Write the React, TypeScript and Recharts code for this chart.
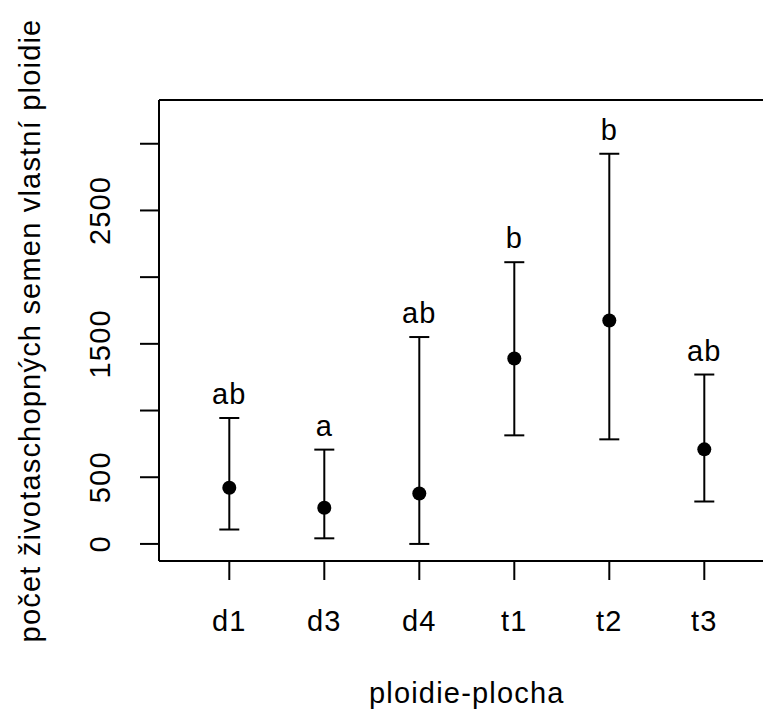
import React from "react"
import {
  ComposedChart,
  Scatter,
  ErrorBar,
  XAxis,
  YAxis,
  ReferenceLine,
} from "recharts"

// skupiny (ploidie-plocha)
const categories = ["d1", "d3", "d4", "t1", "t2", "t3"]
// prumer a interval
const means = [421, 271, 378, 1390, 1675, 709]
const lowers = [108, 42, 0, 814, 784, 318]
const uppers = [944, 707, 1551, 2112, 2925, 1270]
// pismena z post-hoc testu
const letters = ["ab", "a", "ab", "b", "b", "ab"]
const yTicks = [0, 500, 1000, 1500, 2000, 2500, 3000]
// R vynecha popisky, ktere by se prekryvaly
const yTickLabels = [0, 500, 1500, 2500]

const FONT = "'Liberation Sans', Arial, sans-serif"
const FS = 29
const LS = 1.2

const data = categories.map((c, i) => ({
  x: i + 1,
  name: c,
  mean: means[i],
  upper: uppers[i],
  err: [means[i] - lowers[i], uppers[i] - means[i]],
  letter: letters[i],
}))

const txt = { fontSize: FS, fontFamily: FONT, fill: "#000", letterSpacing: LS }

const YTick = (props: any) => {
  const { x, y, payload } = props
  if (!yTickLabels.includes(payload.value)) return null
  const tx = x - 30
  return (
    <text x={tx} y={y} transform={`rotate(-90 ${tx} ${y})`} textAnchor="middle" {...txt}>
      {payload.value}
    </text>
  )
}

const XTick = (props: any) => {
  const { x, y, payload } = props
  return (
    <text x={x} y={y + 51} textAnchor="middle" {...txt}>
      {categories[payload.value - 1]}
    </text>
  )
}

const Dot = (props: any) => <circle cx={props.cx} cy={props.cy} r={7} fill="#000" />

const Letter = (props: any) => (
  <text x={props.cx} y={props.cy - 14} textAnchor="middle" {...txt}>
    {props.payload.letter}
  </text>
)

export default function App() {
  return (
    <div
      style={{
        position: "absolute",
        left: 0,
        top: 0,
        width: 763,
        height: 713,
        overflow: "hidden",
        background: "#fff",
      }}
    >
      <ComposedChart
        width={800}
        height={713}
        data={data}
        margin={{ top: 100, right: 25.4, bottom: 0, left: 0 }}
      >
        <XAxis
          dataKey="x"
          type="number"
          domain={[0.26, 6.74]}
          ticks={categories.map((_, i) => i + 1)}
          allowDataOverflow
          height={152}
          axisLine={{ stroke: "#000", strokeWidth: 2 }}
          tickLine={{ stroke: "#000", strokeWidth: 2 }}
          tickSize={19}
          tickMargin={0}
          tick={<XTick />}
          label={{
            content: (p: any) => {
              const vb = p.viewBox
              return (
                <text x={vb.x + vb.width / 2} y={vb.y + 142} textAnchor="middle" {...txt}>
                  ploidie-plocha
                </text>
              )
            },
          }}
        />
        <YAxis
          type="number"
          domain={[-128, 3328]}
          ticks={yTicks}
          allowDataOverflow
          width={159}
          axisLine={{ stroke: "#000", strokeWidth: 2 }}
          tickLine={{ stroke: "#000", strokeWidth: 2 }}
          tickSize={19}
          tickMargin={0}
          tick={<YTick />}
          label={{
            content: (p: any) => {
              const vb = p.viewBox
              const tx = vb.x + 40
              const ty = vb.y + vb.height / 2
              return (
                <text x={tx} y={ty} transform={`rotate(-90 ${tx} ${ty})`} textAnchor="middle" {...txt}>
                  počet životaschopných semen vlastní ploidie
                </text>
              )
            },
          }}
        />
        {/* horni okraj ramecku */}
        <ReferenceLine y={3328} stroke="#000" strokeWidth={2} />
        <Scatter dataKey="mean" shape={<Dot />} isAnimationActive={false}>
          <ErrorBar
            dataKey="err"
            direction="y"
            width={10}
            stroke="#000"
            strokeWidth={2}
            isAnimationActive={false}
          />
        </Scatter>
        <Scatter dataKey="upper" shape={<Letter />} isAnimationActive={false} />
      </ComposedChart>
    </div>
  )
}
